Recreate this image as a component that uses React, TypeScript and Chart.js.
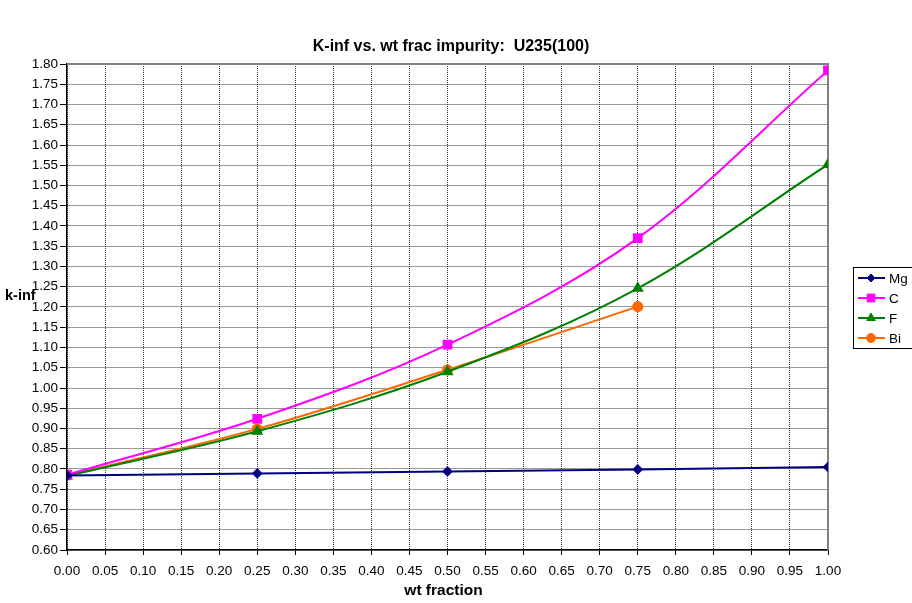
import React, { useEffect, useRef } from "react";
import { Chart, registerables } from "chart.js";
import { drawPoint } from "chart.js/helpers";

Chart.register(...registerables);

const chartTitle = "K-inf vs. wt frac impurity:  U235(100)";
const xTitle = "wt fraction";
const yTitle = "k-inf";
const seriesNames = ["Mg", "C", "F", "Bi"];
const xValues = [0, 0.25, 0.5, 0.75, 1.0];
const mgValues = [0.784, 0.789, 0.794, 0.799, 0.805];
const cValues = [0.786, 0.924, 1.107, 1.37, 1.784];
const fValues = [0.783, 0.893, 1.04, 1.246, 1.552];
const biValues = [0.784, 0.899, 1.045, 1.201];
const seriesColors = ["#000080", "#FF00FF", "#008000", "#FF6600"];
const pointStyles = ["rectRot", "rect", "triangle", "circle"];
const pointRadii = [4, 5.5, 5, 4.5];

const FONT = "'Liberation Sans', Arial, sans-serif";

const toPoints = (vals: number[]) => vals.map((v, i) => ({ x: xValues[i], y: v }));

const textPlugin = {
  id: "textPlugin",
  beforeDatasetsDraw(chart: any) {
    const { ctx, chartArea } = chart;
    ctx.save();
    ctx.strokeStyle = "#808080";
    ctx.lineWidth = 2;
    ctx.beginPath();
    ctx.moveTo(chartArea.left, chartArea.top);
    ctx.lineTo(chartArea.right, chartArea.top);
    ctx.lineTo(chartArea.right, chartArea.bottom);
    ctx.stroke();
    ctx.restore();
  },
  afterDraw(chart: any) {
    const { ctx, chartArea } = chart;
    ctx.save();
    ctx.fillStyle = "#000";
    ctx.textBaseline = "middle";
    ctx.textAlign = "center";
    ctx.font = `bold 16px ${FONT}`;
    ctx.fillText(chartTitle, 451, 47);
    ctx.font = `bold 15.5px ${FONT}`;
    ctx.fillText(xTitle, (chartArea.left + chartArea.right) / 2 - 4, 591);
    ctx.textAlign = "left";
    ctx.font = `bold 14.5px ${FONT}`;
    ctx.fillText(yTitle, 5, 296);

    // legend
    ctx.strokeStyle = "#000";
    ctx.lineWidth = 1;
    ctx.strokeRect(853.5, 267.5, 70, 81);
    const rows = [278, 298, 318, 338];
    ctx.font = `13.5px ${FONT}`;
    seriesNames.forEach((name, i) => {
      const y = rows[i];
      ctx.strokeStyle = seriesColors[i];
      ctx.lineWidth = 2;
      ctx.beginPath();
      ctx.moveTo(858, y);
      ctx.lineTo(885, y);
      ctx.stroke();
      ctx.fillStyle = seriesColors[i];
      ctx.lineWidth = 1;
      drawPoint(ctx, { pointStyle: pointStyles[i] as any, radius: pointRadii[i], rotation: 0, borderWidth: 1 } as any, 871, y);
      ctx.fillStyle = "#000";
      ctx.fillText(name, 889, y + 1);
    });
    ctx.restore();
  },
};

export default function App() {
  const canvasRef = useRef<HTMLCanvasElement | null>(null);
  useEffect(() => {
    if (!canvasRef.current) return;
    const datasets = [mgValues, cValues, fValues, biValues].map((vals, i) => ({
      label: seriesNames[i],
      data: toPoints(vals),
      borderColor: seriesColors[i],
      backgroundColor: seriesColors[i],
      pointBackgroundColor: seriesColors[i],
      pointBorderColor: seriesColors[i],
      pointStyle: pointStyles[i] as any,
      pointRadius: pointRadii[i],
      borderWidth: 2,
      tension: 0.35,
      fill: false,
    }));
    const chart = new Chart(canvasRef.current, {
      type: "line",
      data: { datasets },
      options: {
        animation: false,
        responsive: false,
        maintainAspectRatio: false,
        layout: { padding: { left: 0, right: 84, top: 64, bottom: 0 } },
        plugins: { legend: { display: false }, title: { display: false }, tooltip: { enabled: false } },
        scales: {
          x: {
            type: "linear",
            min: 0,
            max: 1,
            afterFit: (s: any) => {
              s.height = 53;
            },
            ticks: {
              stepSize: 0.05,
              color: "#000",
              font: { family: FONT, size: 13.5 },
              padding: 8,
              maxRotation: 0,
              autoSkip: false,
              callback: (v: any) => Number(v).toFixed(2),
            },
            grid: {
              color: "#333",
              lineWidth: 1,
              tickLength: 5,
              tickColor: "#000",
              tickBorderDash: [],
            } as any,
            border: { color: "#000", width: 1.5, dash: [1, 1] },
          },
          y: {
            type: "linear",
            min: 0.6,
            max: 1.8,
            afterFit: (s: any) => {
              s.width = 67;
            },
            ticks: {
              stepSize: 0.05,
              color: "#000",
              font: { family: FONT, size: 13.5 },
              padding: 2,
              autoSkip: false,
              callback: (v: any) => Number(v).toFixed(2),
            },
            grid: {
              color: "#333",
              lineWidth: 1,
              tickLength: 7,
              tickColor: "#000",
              tickBorderDash: [],
            } as any,
            border: { color: "#000", width: 1.5, dash: [1, 1] },
          },
        },
      },
      plugins: [textPlugin],
    });
    return () => chart.destroy();
  }, []);
  return (
    <div style={{ position: "fixed", left: 0, top: 0, width: 912, height: 603, background: "#fff" }}>
      <canvas ref={canvasRef} width={912} height={603} style={{ width: 912, height: 603 }} />
    </div>
  );
}
